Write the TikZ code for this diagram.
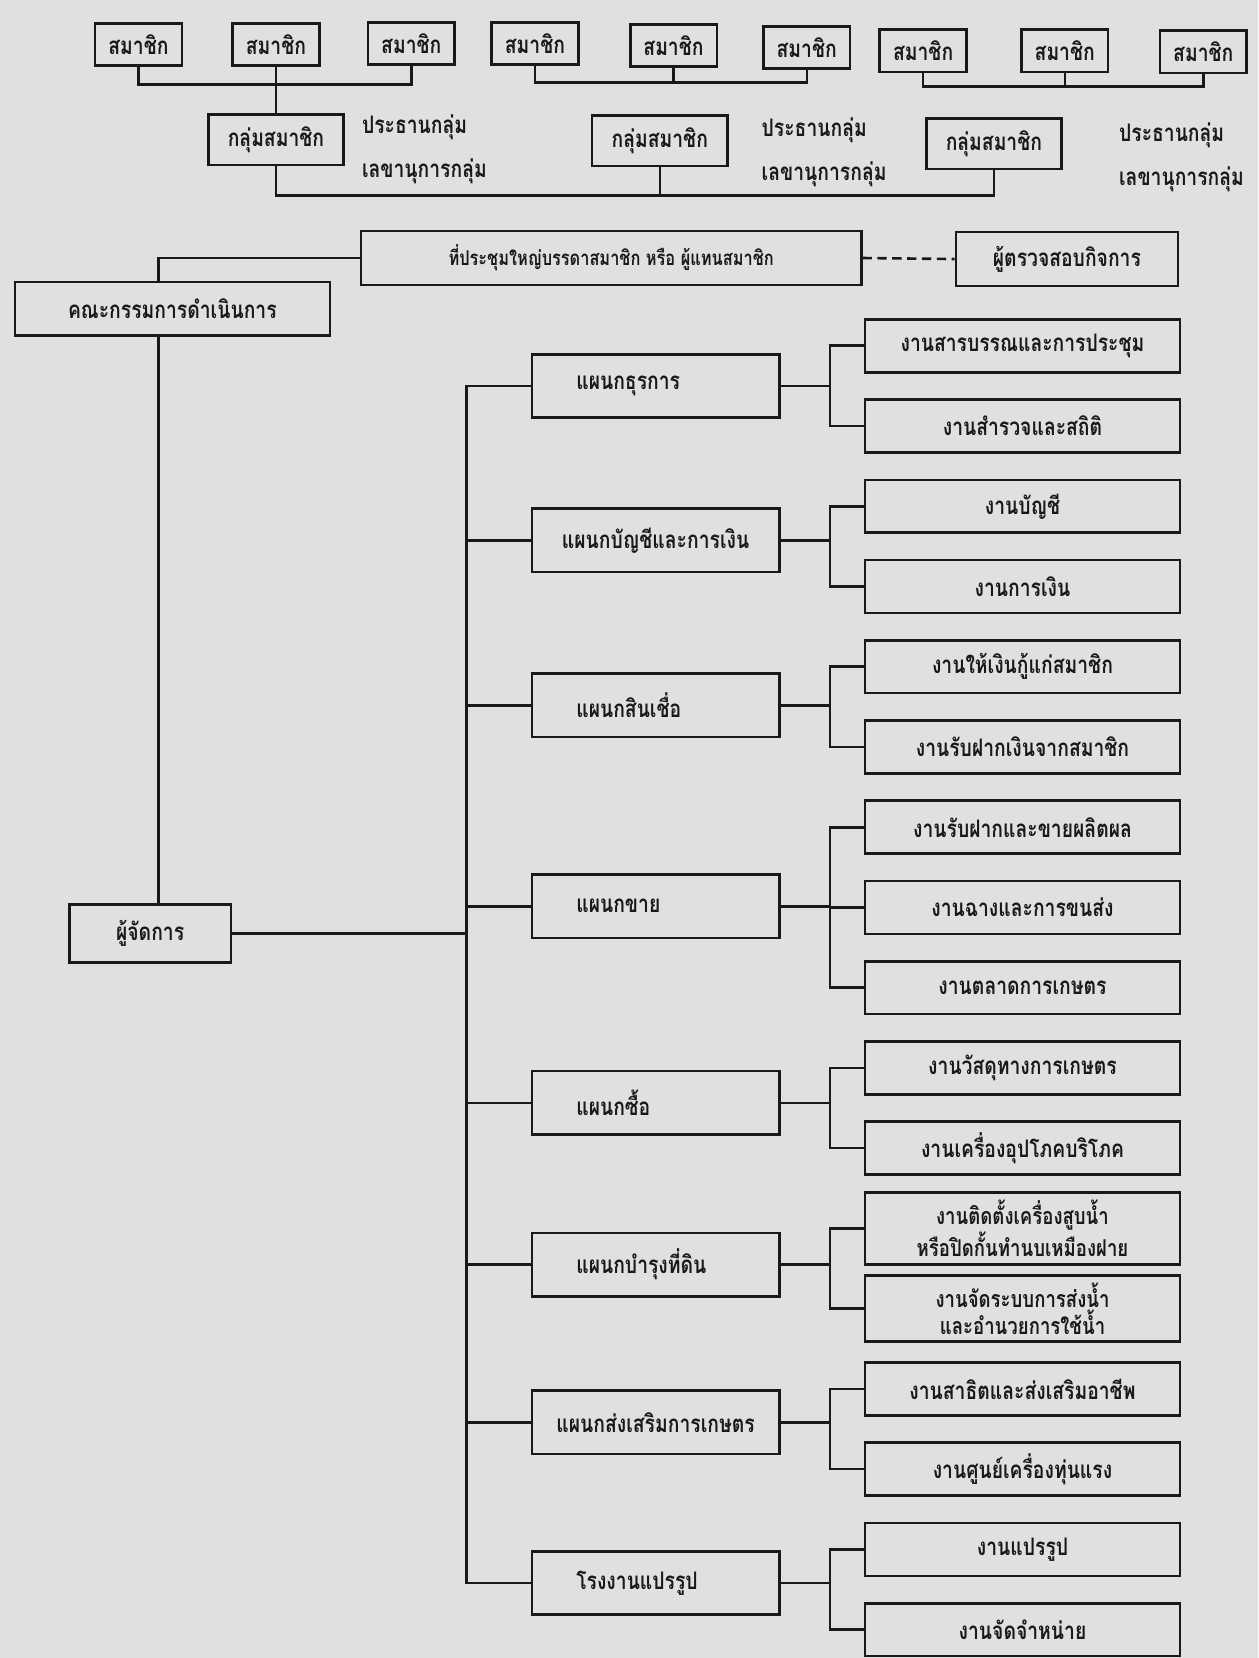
\documentclass[tikz,border=0pt]{standalone}
\usepackage{fontspec}
\setmainfont[Script=Thai,FakeStretch=0.8]{Loma}
\usetikzlibrary{calc}
\definecolor{paper}{gray}{0.88}
\definecolor{ink}{gray}{0.1}
\newcommand\chartfont{\bfseries\fontsize{13}{14}\selectfont}
\tikzset{
    member/.style = {rectangle,
                    draw=ink,
                    text=ink,
                    line width=1.4pt,
                    minimum width=1.64cm,
                    minimum height=0.8cm,
                    inner sep=2pt},
    grp/.style =    {member,
                    minimum width=2.56cm,
                    minimum height=0.96cm},
    office/.style = {member,
                    minimum height=1.02cm},
    dept/.style =   {member,
                    text width=3.0cm,
                    align=left,
                    inner xsep=0.84cm,
                    minimum height=1.2cm},
    longname/.style = {text width=3.8cm,
                    align=center,
                    inner xsep=0.44cm},
    task/.style =   {member,
                    align=center,
                    minimum width=5.96cm,
                    minimum height=1.0cm},
    twoline/.style = {font=\bfseries\fontsize{12.5}{13}\selectfont,
                    inner ysep=4pt},
    note/.style =   {anchor=west,
                    text=ink,
                    inner sep=0pt},
    link/.style =   {draw=ink,
                    line width=1.4pt},
    every node/.append style={font=\chartfont}}

\begin{document}
\begin{tikzpicture}[x=0.02cm,y=-0.02cm,node distance=1.518cm]
    \fill[paper] (0,0) rectangle (1190,1568);
    \useasboundingbox (0,0) rectangle (1190,1568);

    % members and groups
    \node[member]   (m1) at (131,42)    {สมาชิก};
    \node[member]   (m2) at (261,42)    {สมาชิก};
    \node[member]   (m3) at (389,41)    {สมาชิก};
    \node[member]   (m4) at (506,41)    {สมาชิก};
    \node[member]   (m5) at (637,43)    {สมาชิก};
    \node[member]   (m6) at (763,45)    {สมาชิก};
    \node[member]   (m7) at (873,48)    {สมาชิก};
    \node[member]   (m8) at (1007,48)   {สมาชิก};
    \node[member]   (m9) at (1138,49)   {สมาชิก};

    \node[grp]      (g1) at (261,132)   {กลุ่มสมาชิก};
    \node[grp]      (g2) at (624,133)   {กลุ่มสมาชิก};
    \node[grp]      (g3) at (940,136)   {กลุ่มสมาชิก};

    \node[note]     (p1) at (342,120)   {ประธานกลุ่ม};
    \node[note]     (s1) at (342,162)   {เลขานุการกลุ่ม};
    \node[note]     (p2) at (720,123)   {ประธานกลุ่ม};
    \node[note]     (s2) at (720,165)   {เลขานุการกลุ่ม};
    \node[note]     (p3) at (1058,128)  {ประธานกลุ่ม};
    \node[note]     (s3) at (1058,170)  {เลขานุการกลุ่ม};

    % top offices
    \node[office,minimum width=9.46cm,font=\bfseries\fontsize{11}{13}\selectfont] (meet) at (578,244) {ที่ประชุมใหญ่บรรดาสมาชิก หรือ ผู้แทนสมาชิก};
    \node[office,minimum width=4.2cm]   (aud)  at (1009,245) {ผู้ตรวจสอบกิจการ};
    \node[office,minimum width=5.96cm]  (comm) at (163,292)  {คณะกรรมการดำเนินการ};
    \node[office,minimum width=3.06cm,minimum height=1.1cm] (mgr) at (142,883) {ผู้จัดการ};

    % departments
    \node[dept]     (d1) at (620,365)   {แผนกธุรการ};
    \node[dept,longname] (d2) at (620,511) {แผนกบัญชีและการเงิน};
    \node[dept]     (d3) at (620,667)   {แผนกสินเชื่อ};
    \node[dept]     (d4) at (620,857)   {แผนกขาย};
    \node[dept]     (d5) at (620,1043)  {แผนกซื้อ};
    \node[dept]     (d6) at (620,1196)  {แผนกบำรุงที่ดิน};
    \node[dept,longname] (d7) at (620,1345) {แผนกส่งเสริมการเกษตร};
    \node[dept]     (d8) at (620,1497)  {โรงงานแปรรูป};

    % tasks
    \node[task]     (t1) at (967,327)   {งานสารบรรณและการประชุม};
    \node[task]     (t2) [below of=t1]  {งานสำรวจและสถิติ};
    \node[task]     (t3) [below of=t2]  {งานบัญชี};
    \node[task]     (t4) [below of=t3]  {งานการเงิน};
    \node[task]     (t5) [below of=t4]  {งานให้เงินกู้แก่สมาชิก};
    \node[task]     (t6) [below of=t5]  {งานรับฝากเงินจากสมาชิก};
    \node[task]     (t7) [below of=t6]  {งานรับฝากและขายผลิตผล};
    \node[task]     (t8) [below of=t7]  {งานฉางและการขนส่ง};
    \node[task]     (t9) [below of=t8]  {งานตลาดการเกษตร};
    \node[task]     (t10) [below of=t9] {งานวัสดุทางการเกษตร};
    \node[task]     (t11) [below of=t10] {งานเครื่องอุปโภคบริโภค};
    \node[task,twoline] (t12) [below of=t11] {งานติดตั้งเครื่องสูบน้ำ\\หรือปิดกั้นทำนบเหมืองฝาย};
    \node[task,twoline] (t13) [below of=t12] {งานจัดระบบการส่งน้ำ\\และอำนวยการใช้น้ำ};
    \node[task]     (t14) [below of=t13] {งานสาธิตและส่งเสริมอาชีพ};
    \node[task]     (t15) [below of=t14] {งานศูนย์เครื่องทุ่นแรง};
    \node[task]     (t16) [below of=t15] {งานแปรรูป};
    \node[task]     (t17) [below of=t16] {งานจัดจำหน่าย};

    % bus lines
    \coordinate (bus1) at (0,80);
    \coordinate (bus2) at (0,78);
    \coordinate (bus3) at (0,82);
    \coordinate (gbus) at (0,185);
    \coordinate (cx)   at (150,0);
    \coordinate (bx)   at (441,0);
    \coordinate (jx)   at (785,0);

    \draw[link] (m1.south) |- (m3.south |- bus1) -- (m3.south);
    \draw[link] (m2.south) -- (g1.north);
    \draw[link] (m4.south) |- (m6.south |- bus2) -- (m6.south);
    \draw[link] (m5.south) -- (m5.south |- bus2);
    \draw[link] (m7.south) |- (m9.south |- bus3) -- (m9.south);
    \draw[link] (m8.south) -- (m8.south |- bus3);
    \draw[link] (g1.south) |- (g3.south |- gbus) -- (g3.south);
    \draw[link] (g2.south) -- (g2.south |- gbus);

    \draw[link] (meet.west) -| (cx |- comm.north);
    \draw[link,dash pattern=on 5pt off 3pt] (meet.east) -- (aud.west);
    \draw[link] (cx |- comm.south) -- (cx |- mgr.north);
    \draw[link] (mgr.east) -- (bx |- mgr.east);
    \draw[link] (d1.west) -| (bx |- d8.west) -- (d8.west);
    \foreach \d in {d2,d3,d4,d5,d6,d7}
        \draw[link] (bx |- \d.west) -- (\d.west);

    \foreach \d/\a/\b in {d1/t1/t2,d2/t3/t4,d3/t5/t6,d4/t7/t9,d5/t10/t11,d6/t12/t13,d7/t14/t15,d8/t16/t17}{
        \draw[link] (\d.east) -- (jx |- \d.east);
        \draw[link] (\a.west) -| (jx |- \b.west) -- (\b.west);
    }
    \draw[link] (jx |- t8.west) -- (t8.west);
\end{tikzpicture}
\end{document}
